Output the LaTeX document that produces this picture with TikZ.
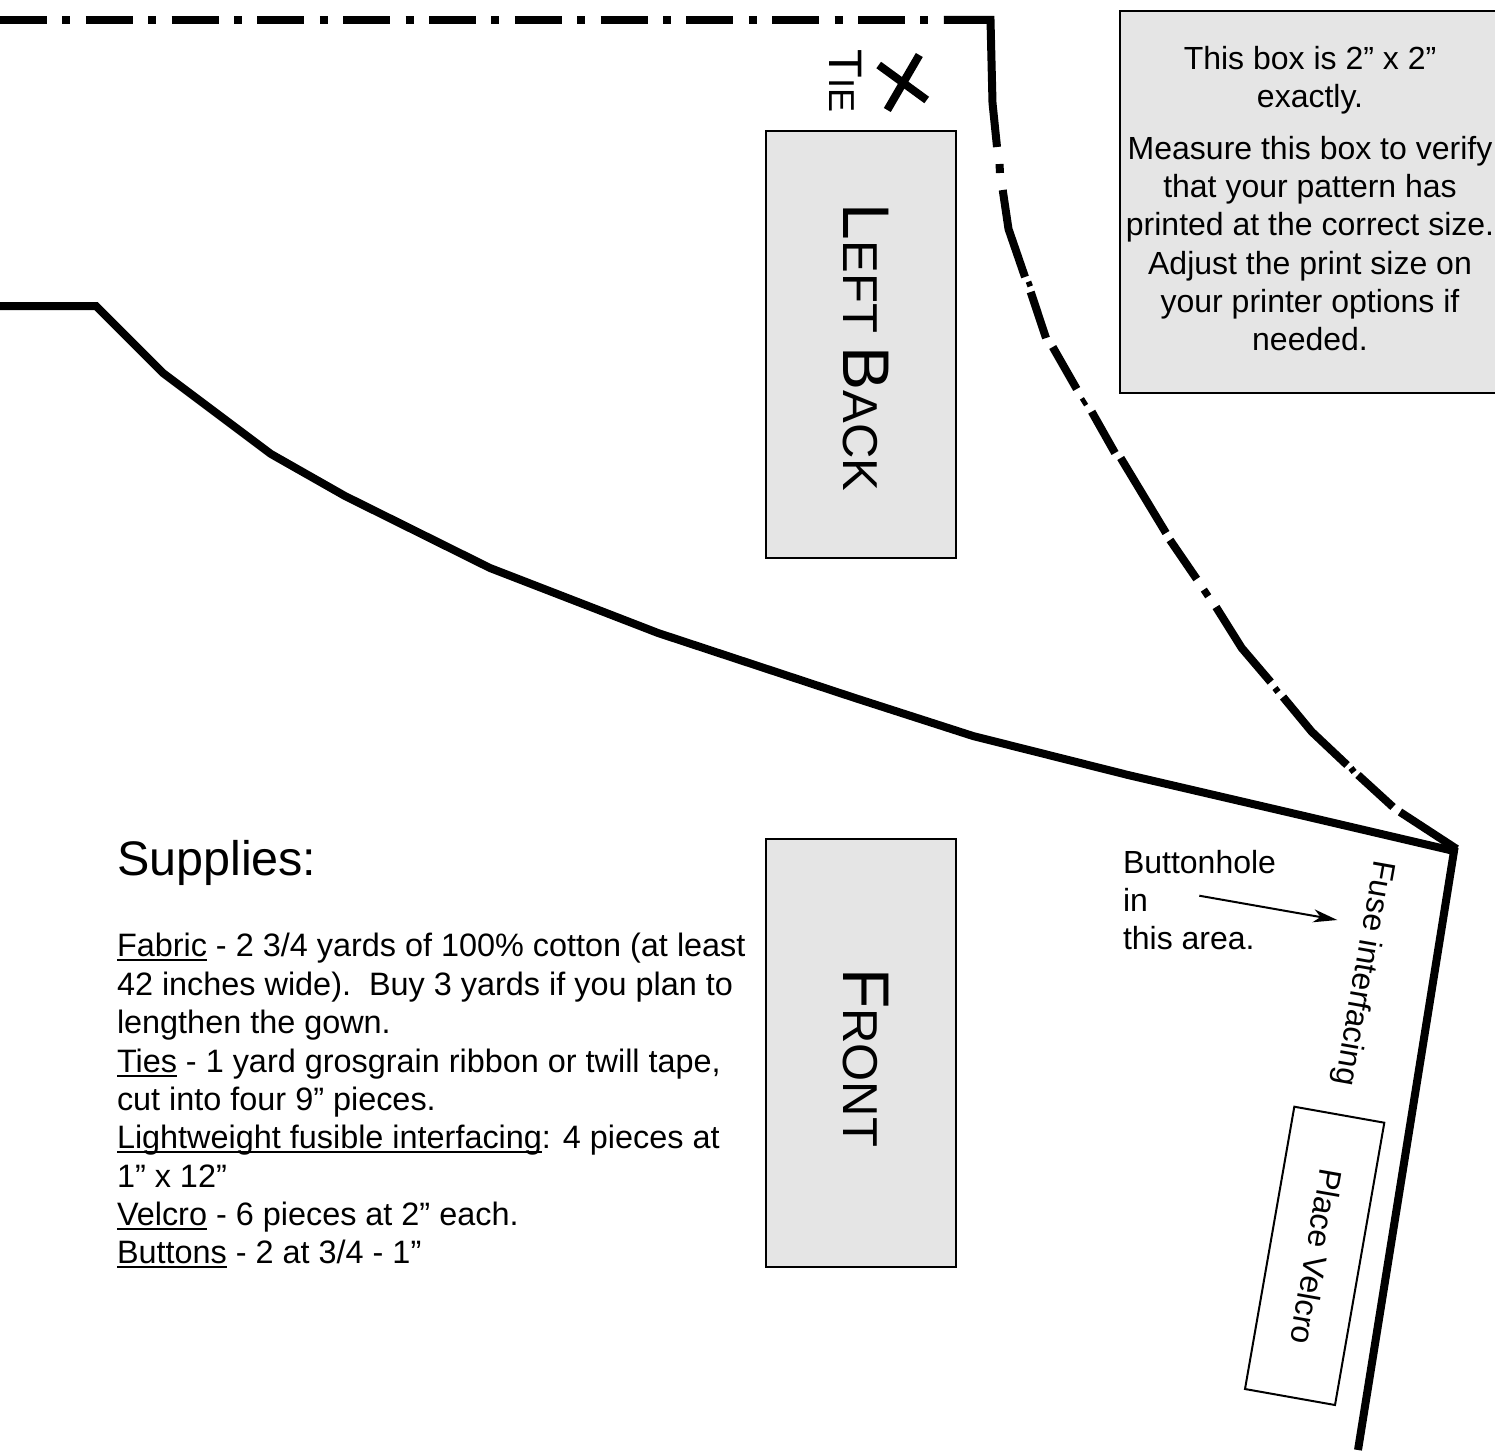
\documentclass[tikz,border=0pt]{standalone}
\usepackage{fontspec}
\setmainfont{Liberation Sans}
\usetikzlibrary{arrows.meta}
\newcommand{\ulx}[1]{\setbox0\hbox{#1}\rlap{\rule[-4.5pt]{\wd0}{2pt}}#1}
\newcommand{\fsz}[2]{\fontsize{#1}{#2}\selectfont}
\definecolor{boxgray}{HTML}{E5E5E5}
\tikzset{
  seam/.style={line width=8pt,draw=black,line cap=butt,miter limit=4},
  dashseam/.style={seam,dash pattern=on 47pt off 15.4pt on 8pt off 15.4pt},
  label/.style={inner sep=0pt,outer sep=0pt,text=black},
  body/.style={label,font=\fsz{32.4}{38.35}},
  small/.style={label,font=\fsz{32}{38.35}},
  grayblock/.style={draw=black,fill=boxgray,line width=2pt},
  thinbox/.style={draw=black,line width=2pt},
  pointer/.style={draw=black,line width=2pt,-{Stealth[length=24pt,width=13pt,inset=7pt]}},
}
\begin{document}
\begin{tikzpicture}[x=1pt,y=-1pt]
\useasboundingbox[fill=white] (0,0) rectangle (1495,1450);
% info box
\draw[grayblock,line width=1.6pt] (1120,11) rectangle (1510,393);
\node[small,align=center,anchor=north] (info1) at (1310,46) {This box is 2” x 2”\\exactly.};
\node[small,align=center,anchor=north] (info2) at (1310,136) {Measure this box to verify\\that your pattern has\\printed at the correct size.\\Adjust the print size on\\your printer options if\\needed.};
% top dash-dot line
\draw[dashseam] (0,20) -- (943.8,20);
\draw[seam] (943.8,20) -- (990.5,20) -- (992.5,103) -- (997,147);
\draw[seam] (999.5,164) -- (1000,173);
\draw[seam] (1002.7,190) -- (1008.5,229) -- (1025,277);
\draw[seam,line width=5pt] (1026.7,285) -- (1032,283);
\draw[seam] (1030.7,292) -- (1046,338);
\draw[seam] (1052.7,347) -- (1076.7,389);
\draw[seam] (1082,403) -- (1086,400.5);
\draw[seam] (1091.7,411.7) -- (1115,453);
\draw[seam] (1120.7,458) -- (1166,533);
\draw[seam] (1170,540) -- (1196.7,579);
\draw[seam] (1203,595) -- (1209,591);
\draw[seam] (1216,607) -- (1241.7,648) -- (1270.7,682);
\draw[seam,line width=5pt] (1274,692) -- (1279,688);
\draw[seam] (1283,697) -- (1311.7,731.7) -- (1347,765);
\draw[seam,line width=5pt] (1350,772) -- (1355,768);
\draw[seam] (1358,775) -- (1393,807);
\draw[seam] (1400,812) -- (1456.7,849);
% solid pattern line
\draw[seam] (0,306) -- (96,306) -- (163,373) -- (271,454) -- (345,496) -- (490,568) -- (658,633) -- (855,698) -- (973,736) -- (1128,775) -- (1300,815) -- (1454,851) -- (1358,1450);
% labelled blocks
\draw[grayblock] (766,131) rectangle (956,558);
\draw[grayblock] (766,839) rectangle (956,1267);
\node[label,anchor=base west,rotate=-90] (leftback) at (843,204) {\fsz{66}{70}L\fsz{49}{50}EFT \fsz{66}{70}B\fsz{49}{50}ACK};
\node[label,anchor=base west,rotate=-90] (front) at (843,968) {\fsz{66}{70}F\fsz{49}{50}RONT};
\node[label,anchor=base west,rotate=-90] (tie) at (829,50) {\fsz{47}{50}T\fsz{36}{40}IE};
% tie mark
\draw[seam] (878.7,65) -- (926.7,100);
\draw[seam] (919.3,55) -- (887.3,110);
% supplies
\node[label,anchor=base west] (supplies) at (117,875) {\fsz{48.5}{50}Supplies:};
\node[body,anchor=north west,align=left] (list) at (117,933.5) {\ulx{Fabric} - 2 3/4 yards of 100\% cotton (at least\\42 inches wide).\ \ Buy 3 yards if you plan to\\lengthen the gown.\\\ulx{Ties} - 1 yard grosgrain ribbon or twill tape,\\cut into four 9” pieces.\\\ulx{Lightweight fusible interfacing}: 4 pieces at\\1” x 12”\\\ulx{Velcro} - 6 pieces at 2” each.\\\ulx{Buttons} - 2 at 3/4 - 1”};
% buttonhole
\node[small,anchor=north west,align=left] (bh) at (1123,850) {Buttonhole\\in\\this area.};
\coordinate (arrowstart) at (1199.3,895.7);
\coordinate (arrowend) at (1337.3,920);
\draw[pointer] (arrowstart) -- (arrowend);
\node[small,rotate=-100] (fuse) at (1363,973) {Fuse interfacing};
% velcro
\draw[thinbox] (1294.3,1106.7) -- (1384.3,1122.7) -- (1335,1405) -- (1245,1389) -- cycle;
\node[small,rotate=-100] (velcro) at (1316.7,1256.7) {Place Velcro};
\end{tikzpicture}
\end{document}
